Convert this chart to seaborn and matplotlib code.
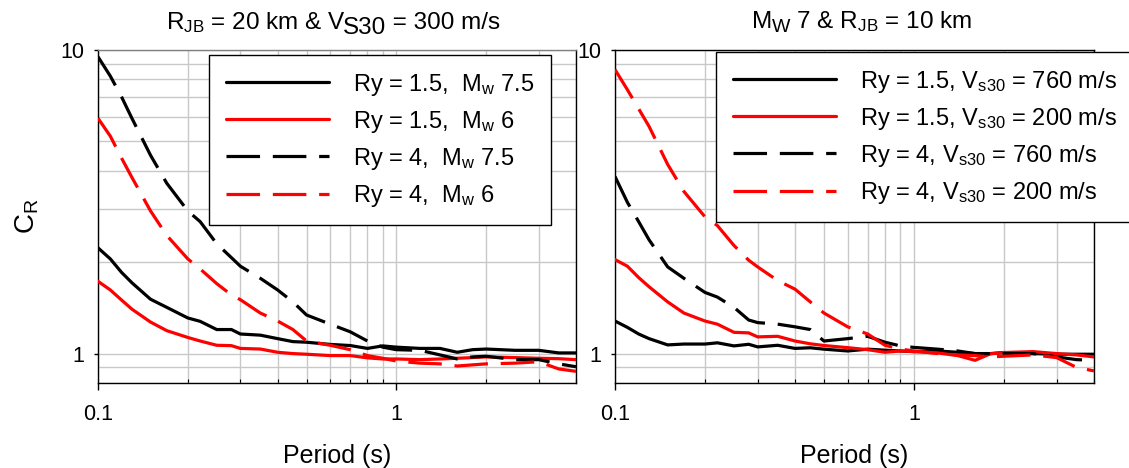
import matplotlib
matplotlib.use("Agg")
import matplotlib.pyplot as plt
from matplotlib.ticker import FixedLocator, FixedFormatter, NullFormatter
import numpy as np
import pandas as pd
import seaborn as sns

# Spectral periods (s)
period = [0.1, 0.11, 0.12, 0.13, 0.15, 0.17, 0.2, 0.22, 0.25, 0.28, 0.3, 0.35,
          0.4, 0.45, 0.5, 0.6, 0.7, 0.8, 0.9, 1.0, 1.2, 1.4, 1.6, 1.8, 2.0,
          2.5, 3.0, 3.5, 4.0]

# Panel a: R_JB = 20 km, Vs30 = 300 m/s
cr_ry15_mw75 = [2.23, 2.05, 1.85, 1.71, 1.51, 1.42, 1.31, 1.277, 1.20, 1.20, 1.16, 1.15,
                1.12, 1.095, 1.09, 1.072, 1.063, 1.04, 1.06, 1.05, 1.04, 1.04, 1.01,
                1.03, 1.035, 1.025, 1.025, 1.005, 1.005]
cr_ry15_mw6 = [1.73, 1.62, 1.50, 1.40, 1.27, 1.19, 1.13, 1.10, 1.065, 1.062, 1.04, 1.035,
               1.01, 1.0, 0.995, 0.985, 0.985, 0.968, 0.96, 0.96, 0.955, 0.96, 0.965,
               0.97, 0.975, 0.97, 0.965, 0.962, 0.955]
cr_ry4_mw75 = [9.5, 8.2, 7.0, 5.95, 4.5, 3.64, 2.95, 2.72, 2.3, 2.07, 1.94, 1.77,
               1.62, 1.48, 1.34, 1.25, 1.18, 1.10, 1.05, 1.03, 1.025, 0.99, 0.96,
               0.975, 0.98, 0.955, 0.955, 0.925, 0.905]
cr_ry4_mw6 = [5.96, 5.2, 4.4, 3.8, 2.95, 2.45, 2.05, 1.9, 1.70, 1.56, 1.505, 1.36,
              1.28, 1.20, 1.10, 1.065, 1.03, 0.985, 0.965, 0.945, 0.93, 0.925, 0.91,
              0.918, 0.925, 0.93, 0.94, 0.89, 0.874]

# Panel b: Mw 7, R_JB = 10 km
cr_ry15_vs760 = [1.28, 1.22, 1.16, 1.12, 1.068, 1.075, 1.075, 1.085, 1.06, 1.073, 1.052, 1.065,
                 1.04, 1.045, 1.034, 1.02, 1.034, 1.026, 1.02, 1.015, 1.02, 1.01, 1.0,
                 1.0, 1.008, 1.0, 0.995, 0.995, 0.995]
cr_ry15_vs200 = [2.04, 1.94, 1.78, 1.66, 1.48, 1.36, 1.28, 1.25, 1.175, 1.17, 1.135, 1.14,
                 1.10, 1.077, 1.063, 1.046, 1.03, 1.01, 1.02, 1.015, 1.005, 0.985, 0.95,
                 0.998, 1.008, 1.015, 1.0, 0.99, 0.975]
cr_ry4_vs760 = [3.83, 3.15, 2.72, 2.37, 1.93, 1.77, 1.59, 1.535, 1.42, 1.29, 1.265, 1.25,
                1.225, 1.20, 1.10, 1.12, 1.14, 1.09, 1.06, 1.048, 1.034, 1.02, 1.0,
                1.0, 1.0, 1.0, 0.975, 0.955, 0.95]
cr_ry4_vs200 = [8.62, 7.4, 6.4, 5.6, 4.2, 3.42, 2.82, 2.64, 2.27, 2.03, 1.93, 1.74,
                1.63, 1.48, 1.36, 1.225, 1.16, 1.065, 1.035, 1.02, 1.0, 0.99, 0.985,
                0.975, 0.98, 0.99, 0.97, 0.9, 0.877]

labels_a = ["Ry = 1.5,  M$_w$ 7.5", "Ry = 1.5,  M$_w$ 6",
            "Ry = 4,  M$_w$ 7.5", "Ry = 4,  M$_w$ 6"]
labels_b = ["Ry = 1.5, V$_{s30}$ = 760 m/s", "Ry = 1.5, V$_{s30}$ = 200 m/s",
            "Ry = 4, V$_{s30}$ = 760 m/s", "Ry = 4, V$_{s30}$ = 200 m/s"]

x_ticks = [0.1, 1]
x_ticklabels = ["0.1", "1"]
y_ticks = [1, 10]
y_ticklabels = ["1", "10"]

sns.set_theme(style="white")
plt.rcParams["font.family"] = ["Liberation Sans", "DejaVu Sans"]
plt.rcParams["mathtext.fontset"] = "custom"
plt.rcParams["mathtext.rm"] = "Liberation Sans"
plt.rcParams["mathtext.it"] = "Liberation Sans:italic"
plt.rcParams["mathtext.default"] = "regular"
for key in ["text.color", "axes.labelcolor", "xtick.color", "ytick.color"]:
    plt.rcParams[key] = "black"

W_PX, H_PX = 1129, 468
fig = plt.figure(figsize=(W_PX / 100, H_PX / 100), dpi=100)
bottom = 1 - 383 / H_PX
height = 333 / H_PX
ax_a = fig.add_axes([98 / W_PX, bottom, 478 / W_PX, height])
ax_b = fig.add_axes([615 / W_PX, bottom, 479 / W_PX, height])

colors = ["black", "red", "black", "red"]
LW = 2.3
dash_long = (10.5, 4.0)


def long_frame(series, labels):
    rows = []
    for vals, lab in zip(series, labels):
        for t, c in zip(period, vals):
            rows.append({"Period": t, "CR": c, "case": lab})
    return pd.DataFrame(rows)


def draw_panel(ax, series, labels, legend_anchor):
    df = long_frame(series, labels)
    palette = dict(zip(labels, colors))
    dashes = dict(zip(labels, ["", "", dash_long, dash_long]))
    sns.lineplot(data=df, x="Period", y="CR", hue="case", style="case",
                 palette=palette, dashes=dashes, hue_order=labels,
                 style_order=labels, estimator=None, sort=True,
                 linewidth=LW, ax=ax, zorder=3)
    ax.set_xscale("log")
    ax.set_yscale("log")
    ax.set_xlim(0.1, 4.0)
    ax.set_ylim(0.8, 10)

    ax.grid(which="both", color="#c8c8c8", linewidth=1.0, zorder=0)
    ax.set_axisbelow(True)

    ax.xaxis.set_major_locator(FixedLocator(x_ticks))
    ax.xaxis.set_major_formatter(FixedFormatter(x_ticklabels))
    ax.xaxis.set_minor_formatter(NullFormatter())
    ax.yaxis.set_major_locator(FixedLocator(y_ticks))
    ax.yaxis.set_major_formatter(FixedFormatter(y_ticklabels))
    ax.yaxis.set_minor_formatter(NullFormatter())
    ax.tick_params(axis="x", which="major", direction="out", length=5,
                   width=1, pad=10, labelsize=15.5, bottom=True)
    ax.tick_params(axis="x", which="minor", direction="in", length=3,
                   width=0.8, bottom=True)
    ax.tick_params(axis="y", which="major", direction="out", length=3,
                   width=1, pad=7, labelsize=15.5, left=True)
    ax.tick_params(axis="y", which="minor", left=False)

    for side in ["left", "right", "top", "bottom"]:
        ax.spines[side].set_visible(True)
        ax.spines[side].set_color("black")
        ax.spines[side].set_linewidth(1.0)

    ax.set_xlabel("Period (s)", fontsize=18, labelpad=14)
    ax.set_ylabel("")

    handles, labs = ax.get_legend_handles_labels()
    leg = ax.legend(handles, labs, loc="upper left",
                    bbox_to_anchor=legend_anchor, bbox_transform=fig.transFigure,
                    fontsize=17, handlelength=4.4, handletextpad=1.0,
                    borderpad=0.7, labelspacing=0.47, frameon=True,
                    fancybox=False, framealpha=1.0, borderaxespad=0)
    leg.get_frame().set_edgecolor("black")
    leg.get_frame().set_linewidth(1.0)
    for h in leg.get_lines():
        h.set_linewidth(LW)
    return leg


draw_panel(ax_a, [cr_ry15_mw75, cr_ry15_mw6, cr_ry4_mw75, cr_ry4_mw6], labels_a,
           (209 / W_PX, 1 - 55 / H_PX))
draw_panel(ax_b, [cr_ry15_vs760, cr_ry15_vs200, cr_ry4_vs760, cr_ry4_vs200], labels_b,
           (716 / W_PX, 1 - 52 / H_PX))
ax_a.spines["top"].set_color("#808080")

ax_a.set_ylabel("C$_R$", fontsize=20, labelpad=14)

# Titles with partly lowered runs of text
renderer = fig.canvas.get_renderer()


def run_width(s, fs):
    t1 = fig.text(0, 0, "|" + s + "|", fontsize=fs)
    t2 = fig.text(0, 0, "||", fontsize=fs)
    w = t1.get_window_extent(renderer).width - t2.get_window_extent(renderer).width
    t1.remove()
    t2.remove()
    return w


def rich_title(parts, center_px, baseline_px, fs):
    widths = [run_width(s, fs * k) for s, k, _ in parts]
    x = center_px - sum(widths) / 2
    for (s, k, drop), w in zip(parts, widths):
        fig.text(x / W_PX, 1 - (baseline_px + drop) / H_PX, s, fontsize=fs * k,
                 ha="left", va="baseline")
        x += w


rich_title([("R$_{JB}$ = 20 km & V", 1.0, 0), ("S30", 1.0, 5), (" = 300 m/s", 1.0, 0)],
           333, 29, 17.5)
rich_title([("M", 1.0, 0), ("W", 0.8, 4), (" 7 & R$_{JB}$ = 10 km", 1.0, 0)],
           862, 28, 17.5)

fig.savefig("out.png", dpi=100)
